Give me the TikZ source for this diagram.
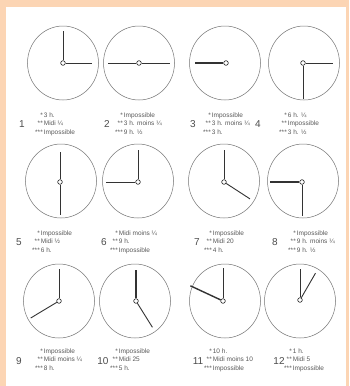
\documentclass[tikz,border=0pt]{standalone}
\usepackage{fontspec}
\setmainfont{Liberation Sans}
\usepackage{xcolor}
\usetikzlibrary{shapes.geometric}

\definecolor{peche}{RGB}{252,213,180}

\begin{document}
\begin{tikzpicture}[
    x=1pt, y=-1pt,
    cadran/.style={draw=black!55, ellipse, line width=0.5pt, inner sep=0pt,
                   minimum width=71pt, minimum height=74pt},
    axe/.style={draw=black!85, fill=white, circle, inner sep=0pt,
                minimum size=4.6pt, line width=0.6pt},
    aiguille/.style={draw=black!80, line width=0.9pt},
    grosse/.style={aiguille, line width=1.4pt},
    numero/.style={text=black!70, font=\fontsize{10}{12}\selectfont},
    legende/.style={text=black!65, anchor=west, inner sep=0pt,
                    font=\fontsize{6.5}{8.5}\selectfont}
  ]

  % --- Fond ---
  \useasboundingbox (0,0) rectangle (349,386);
  \fill[peche] (0,0) rectangle (349,386);
  \fill[white] (6,7) rectangle (346,386);

  % --- Rangee 1 ---
  \node[cadran] (cadran1) at (63,63)  {};
  \node[cadran] (cadran2) at (139,63) {};
  \node[cadran] (cadran3) at (225,63) {};
  \node[cadran] (cadran4) at (304,63) {};
  \node[axe] (axe1) at (63,63)  {};
  \node[axe] (axe2) at (139,63) {};
  \node[axe] (axe3) at (226,63) {};
  \node[axe] (axe4) at (303,63) {};
  \draw[aiguille] (axe1) -- ++(90:32pt);
  \draw[aiguille] (axe1) -- ++(0:29pt);
  \draw[aiguille] (axe2) -- ++(180:31pt);
  \draw[aiguille] (axe2) -- ++(0:31pt);
  \draw[grosse]   (axe3) -- ++(180:31pt);
  \draw[aiguille] (axe4) -- ++(0:30pt);
  \draw[aiguille] (axe4) -- ++(270:36pt);

  \node[numero] (num1) at (22,124)  {1};
  \node[numero] (num2) at (107,124) {2};
  \node[numero] (num3) at (193,124) {3};
  \node[numero] (num4) at (258,124) {4};
  \node[legende] (leg1) at (35,124)
       {\begin{tabular}{@{}r@{\,}l@{}}{*}&3 h.\\{**}&Midi ¼\\{***}&Impossible\end{tabular}};
  \node[legende] (leg2) at (115,124)
       {\begin{tabular}{@{}r@{\,}l@{}}{*}&Impossible\\{**}&3 h. moins ¼\\{***}&9 h. ½\end{tabular}};
  \node[legende] (leg3) at (203,124)
       {\begin{tabular}{@{}r@{\,}l@{}}{*}&Impossible\\{**}&3 h. moins ¼\\{***}&3 h.\end{tabular}};
  \node[legende] (leg4) at (279,124)
       {\begin{tabular}{@{}r@{\,}l@{}}{*}&6 h. ¼\\{**}&Impossible\\{***}&3 h. ½\end{tabular}};

  % --- Rangee 2 ---
  \node[cadran] (cadran5) at (61,181)  {};
  \node[cadran] (cadran6) at (138,181) {};
  \node[cadran] (cadran7) at (224,181) {};
  \node[cadran] (cadran8) at (303,181) {};
  \node[axe] (axe5) at (60,182)  {};
  \node[axe] (axe6) at (138,182) {};
  \node[axe] (axe7) at (224,182) {};
  \node[axe] (axe8) at (302,182) {};
  \draw[aiguille] (axe5) -- ++(90:30pt);
  \draw[aiguille] (axe5) -- ++(270:33pt);
  \draw[aiguille] (axe6) -- ++(90:32pt);
  \draw[aiguille] (axe6) -- ++(180:32pt);
  \draw[aiguille] (axe7) -- ++(90:32pt);
  \draw[aiguille] (axe7) -- ++(-33:31pt);
  \draw[grosse]   (axe8) -- ++(180:32pt);
  \draw[aiguille] (axe8) -- ++(270:34pt);

  \node[numero] (num5) at (19,242)  {5};
  \node[numero] (num6) at (104,242) {6};
  \node[numero] (num7) at (197,242) {7};
  \node[numero] (num8) at (275,242) {8};
  \node[legende] (leg5) at (32,242)
       {\begin{tabular}{@{}r@{\,}l@{}}{*}&Impossible\\{**}&Midi ½\\{***}&6 h.\end{tabular}};
  \node[legende] (leg6) at (110,242)
       {\begin{tabular}{@{}r@{\,}l@{}}{*}&Midi moins ¼\\{**}&9 h.\\{***}&Impossible\end{tabular}};
  \node[legende] (leg7) at (204,242)
       {\begin{tabular}{@{}r@{\,}l@{}}{*}&Impossible\\{**}&Midi 20\\{***}&4 h.\end{tabular}};
  \node[legende] (leg8) at (288,242)
       {\begin{tabular}{@{}r@{\,}l@{}}{*}&Impossible\\{**}&9 h. moins ¼\\{***}&9 h. ½\end{tabular}};

  % --- Rangee 3 ---
  \node[cadran] (cadran9)  at (59,301)  {};
  \node[cadran] (cadran10) at (135,301) {};
  \node[cadran] (cadran11) at (225,301) {};
  \node[cadran] (cadran12) at (300,301) {};
  \node[axe] (axe9)  at (59,301)  {};
  \node[axe] (axe10) at (136,301) {};
  \node[axe] (axe11) at (223,301) {};
  \node[axe] (axe12) at (300,300) {};
  \draw[aiguille] (axe9)  -- ++(90:32pt);
  \draw[aiguille] (axe9)  -- ++(211:33pt);
  \draw[grosse]   (axe10) -- ++(90:31pt);
  \draw[aiguille] (axe10) -- ++(-58:31pt);
  \draw[aiguille] (axe11) -- ++(90:33pt);
  \draw[grosse]   (axe11) -- ++(155:36pt);
  \draw[aiguille] (axe12) -- ++(90:31pt);
  \draw[aiguille] (axe12) -- ++(60:31pt);

  \node[numero] (num9)  at (19,361)  {9};
  \node[numero] (num10) at (103,361) {10};
  \node[numero] (num11) at (198,361) {11};
  \node[numero] (num12) at (279,361) {12};
  \node[legende] (leg9) at (35,360)
       {\begin{tabular}{@{}r@{\,}l@{}}{*}&Impossible\\{**}&Midi moins ¼\\{***}&8 h.\end{tabular}};
  \node[legende] (leg10) at (110,360)
       {\begin{tabular}{@{}r@{\,}l@{}}{*}&Impossible\\{**}&Midi 25\\{***}&5 h.\end{tabular}};
  \node[legende] (leg11) at (204,360)
       {\begin{tabular}{@{}r@{\,}l@{}}{*}&10 h.\\{**}&Midi moins 10\\{***}&Impossible\end{tabular}};
  \node[legende] (leg12) at (284,360)
       {\begin{tabular}{@{}r@{\,}l@{}}{*}&1 h.\\{**}&Midi 5\\{***}&Impossible\end{tabular}};
\end{tikzpicture}
\end{document}
